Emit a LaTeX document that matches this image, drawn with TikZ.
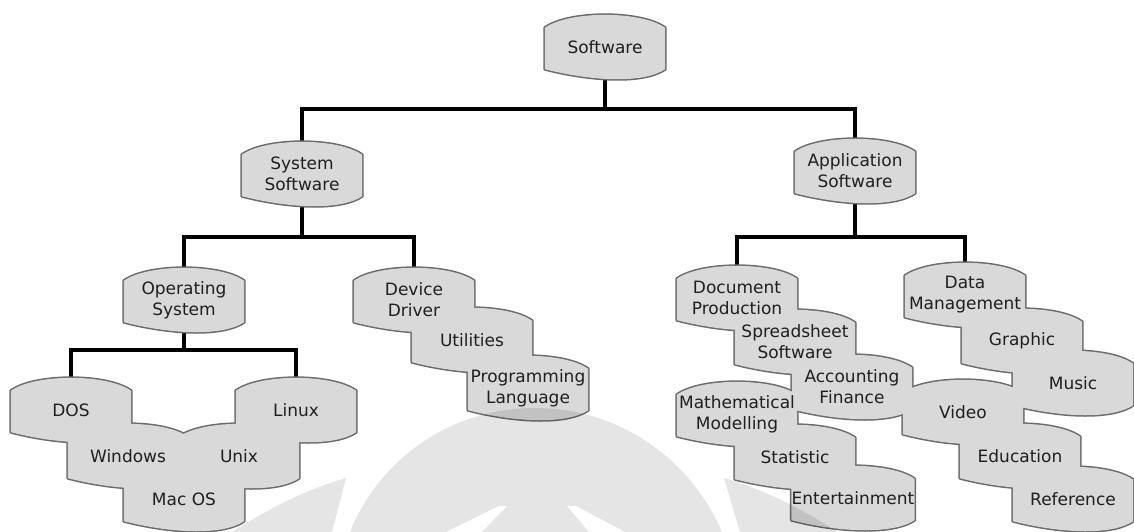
\documentclass[tikz,border=0pt]{standalone}
\usepackage{fontspec}
\newfontfamily\labelfont{DejaVu Sans}
\usetikzlibrary{calc}

\pgfdeclarelayer{back}
\pgfdeclarelayer{fills}
\pgfdeclarelayer{mark}
\pgfsetlayers{back,fills,mark,main}

\definecolor{blobfill}{gray}{0.85}
\definecolor{blobedge}{gray}{0.42}
\definecolor{inkc}{gray}{0.12}
\definecolor{wmark}{gray}{0.9}

% barrel outline built from the anchors of a named node (120 x 64 box)
\newcommand\barrel[1]{([shift={(0,13)}]#1.north west)
  .. controls ([shift={(24,-4.3)}]#1.north west) and ([shift={(-24,-4.3)}]#1.north east) .. ([shift={(0,13)}]#1.north east)
  -- ([shift={(0,-10)}]#1.south east)
  .. controls ([shift={(-20,3.6)}]#1.south east) and ([shift={(52,3.2)}]#1.south west) .. ([shift={(0,-10)}]#1.south west)
  -- cycle}

\tikzset{
  item/.style={minimum width=120pt, minimum height=64pt, inner sep=0pt,
    align=center, text=inkc, font=\labelfont\fontsize{17}{21}\selectfont},
  conn/.style={line width=3.5pt, draw=black, line join=miter},
  rim/.style={draw=blobedge, line width=3pt, line join=round},
  body/.style={fill=blobfill},
}

\begin{document}
\begin{tikzpicture}[x=1pt,y=-1pt]
\useasboundingbox (0,0) rectangle (1134,532);

% ---- labels ----
\node[item] (software) at (605,47)  {Software};
\node[item] (sys)      at (302,174) {System\\Software};
\node[item] (app)      at (855,171) {Application\\Software};

\node[item] (os)   at (184,300) {Operating\\System};
\node[item] (dd)   at (414,300) {Device\\Driver};
\node[item] (util) at (472,340) {Utilities};
\node[item] (prog) at (528,388) {Programming\\Language};

\node[item] (dos)     at (71,410)  {DOS};
\node[item] (linux)   at (296,410) {Linux};
\node[item] (windows) at (128,456) {Windows};
\node[item] (unix)    at (239,456) {Unix};
\node[item] (macos)   at (184,499) {Mac OS};

\node[item] (docprod) at (737,298) {Document\\Production};
\node[item] (spread)  at (795,342) {Spreadsheet\\Software};
\node[item] (acc)     at (852,387) {Accounting\\Finance};
\node[item] (math)    at (737,414) {Mathematical\\Modelling};
\node[item] (stat)    at (795,457) {Statistic};
\node[item] (ent)     at (853,498) {Entertainment};

\node[item] (datamgmt) at (965,295)  {Data\\Management};
\node[item] (graphic)  at (1022,341) {Graphic};
\node[item] (music)    at (1073,383) {Music};
\node[item] (video)    at (963,412)  {Video};
\node[item] (edu)      at (1020,456) {Education};
\node[item] (ref)      at (1073,499) {Reference};

\def\allblobs{software,sys,app,os,dd,util,prog,dos,linux,windows,unix,macos,
  docprod,spread,acc,math,stat,ent,datamgmt,graphic,music,video,edu,ref}

% ---- background, connectors and rims ----
\begin{pgfonlayer}{back}
  \fill[white] (0,0) rectangle (1134,532);

  \draw[conn] (software.south) -- ++(0,30) coordinate (busA);
  \draw[conn] (sys.north) |- (busA) -| (app.north);

  \draw[conn] (sys.south) -- ++(0,31) coordinate (busB);
  \draw[conn] (os.north) |- (busB) -| (dd.north);

  \draw[conn] (os.south) -- ++(0,18) coordinate (busC);
  \draw[conn] (dos.north) |- (busC) -| (linux.north);

  \draw[conn] (app.south) -- ++(0,34) coordinate (busD);
  \draw[conn] (docprod.north) |- (busD) -| (datamgmt.north);

  \foreach \n in \allblobs { \draw[rim] \barrel{\n}; }
\end{pgfonlayer}

% ---- fills on top of the rims, so overlapping barrels merge ----
\begin{pgfonlayer}{fills}
  \foreach \n in \allblobs { \fill[body] \barrel{\n}; }
\end{pgfonlayer}

% ---- faint emblem watermark ----
\begin{pgfonlayer}{mark}
  \begin{scope}[blend mode=multiply]
    \clip (0,0) rectangle (1134,532);
    \fill[wmark] (350,532) .. controls (378,462) and (448,408) .. (535,408)
                 .. controls (622,408) and (692,462) .. (722,532) -- cycle;
    \fill[wmark] (232,532) .. controls (270,508) and (305,490) .. (346,478)
                 -- (332,532) -- cycle;
    \fill[wmark] (838,532) .. controls (800,508) and (765,490) .. (724,478)
                 -- (740,532) -- cycle;
  \end{scope}
  \fill[white] (446,532) -- (482,532) -- (507,506) -- (499,506) -- cycle;
  \fill[white] (589,532) -- (625,532) -- (576,506) -- (567,506) -- cycle;
\end{pgfonlayer}
\end{tikzpicture}
\end{document}
